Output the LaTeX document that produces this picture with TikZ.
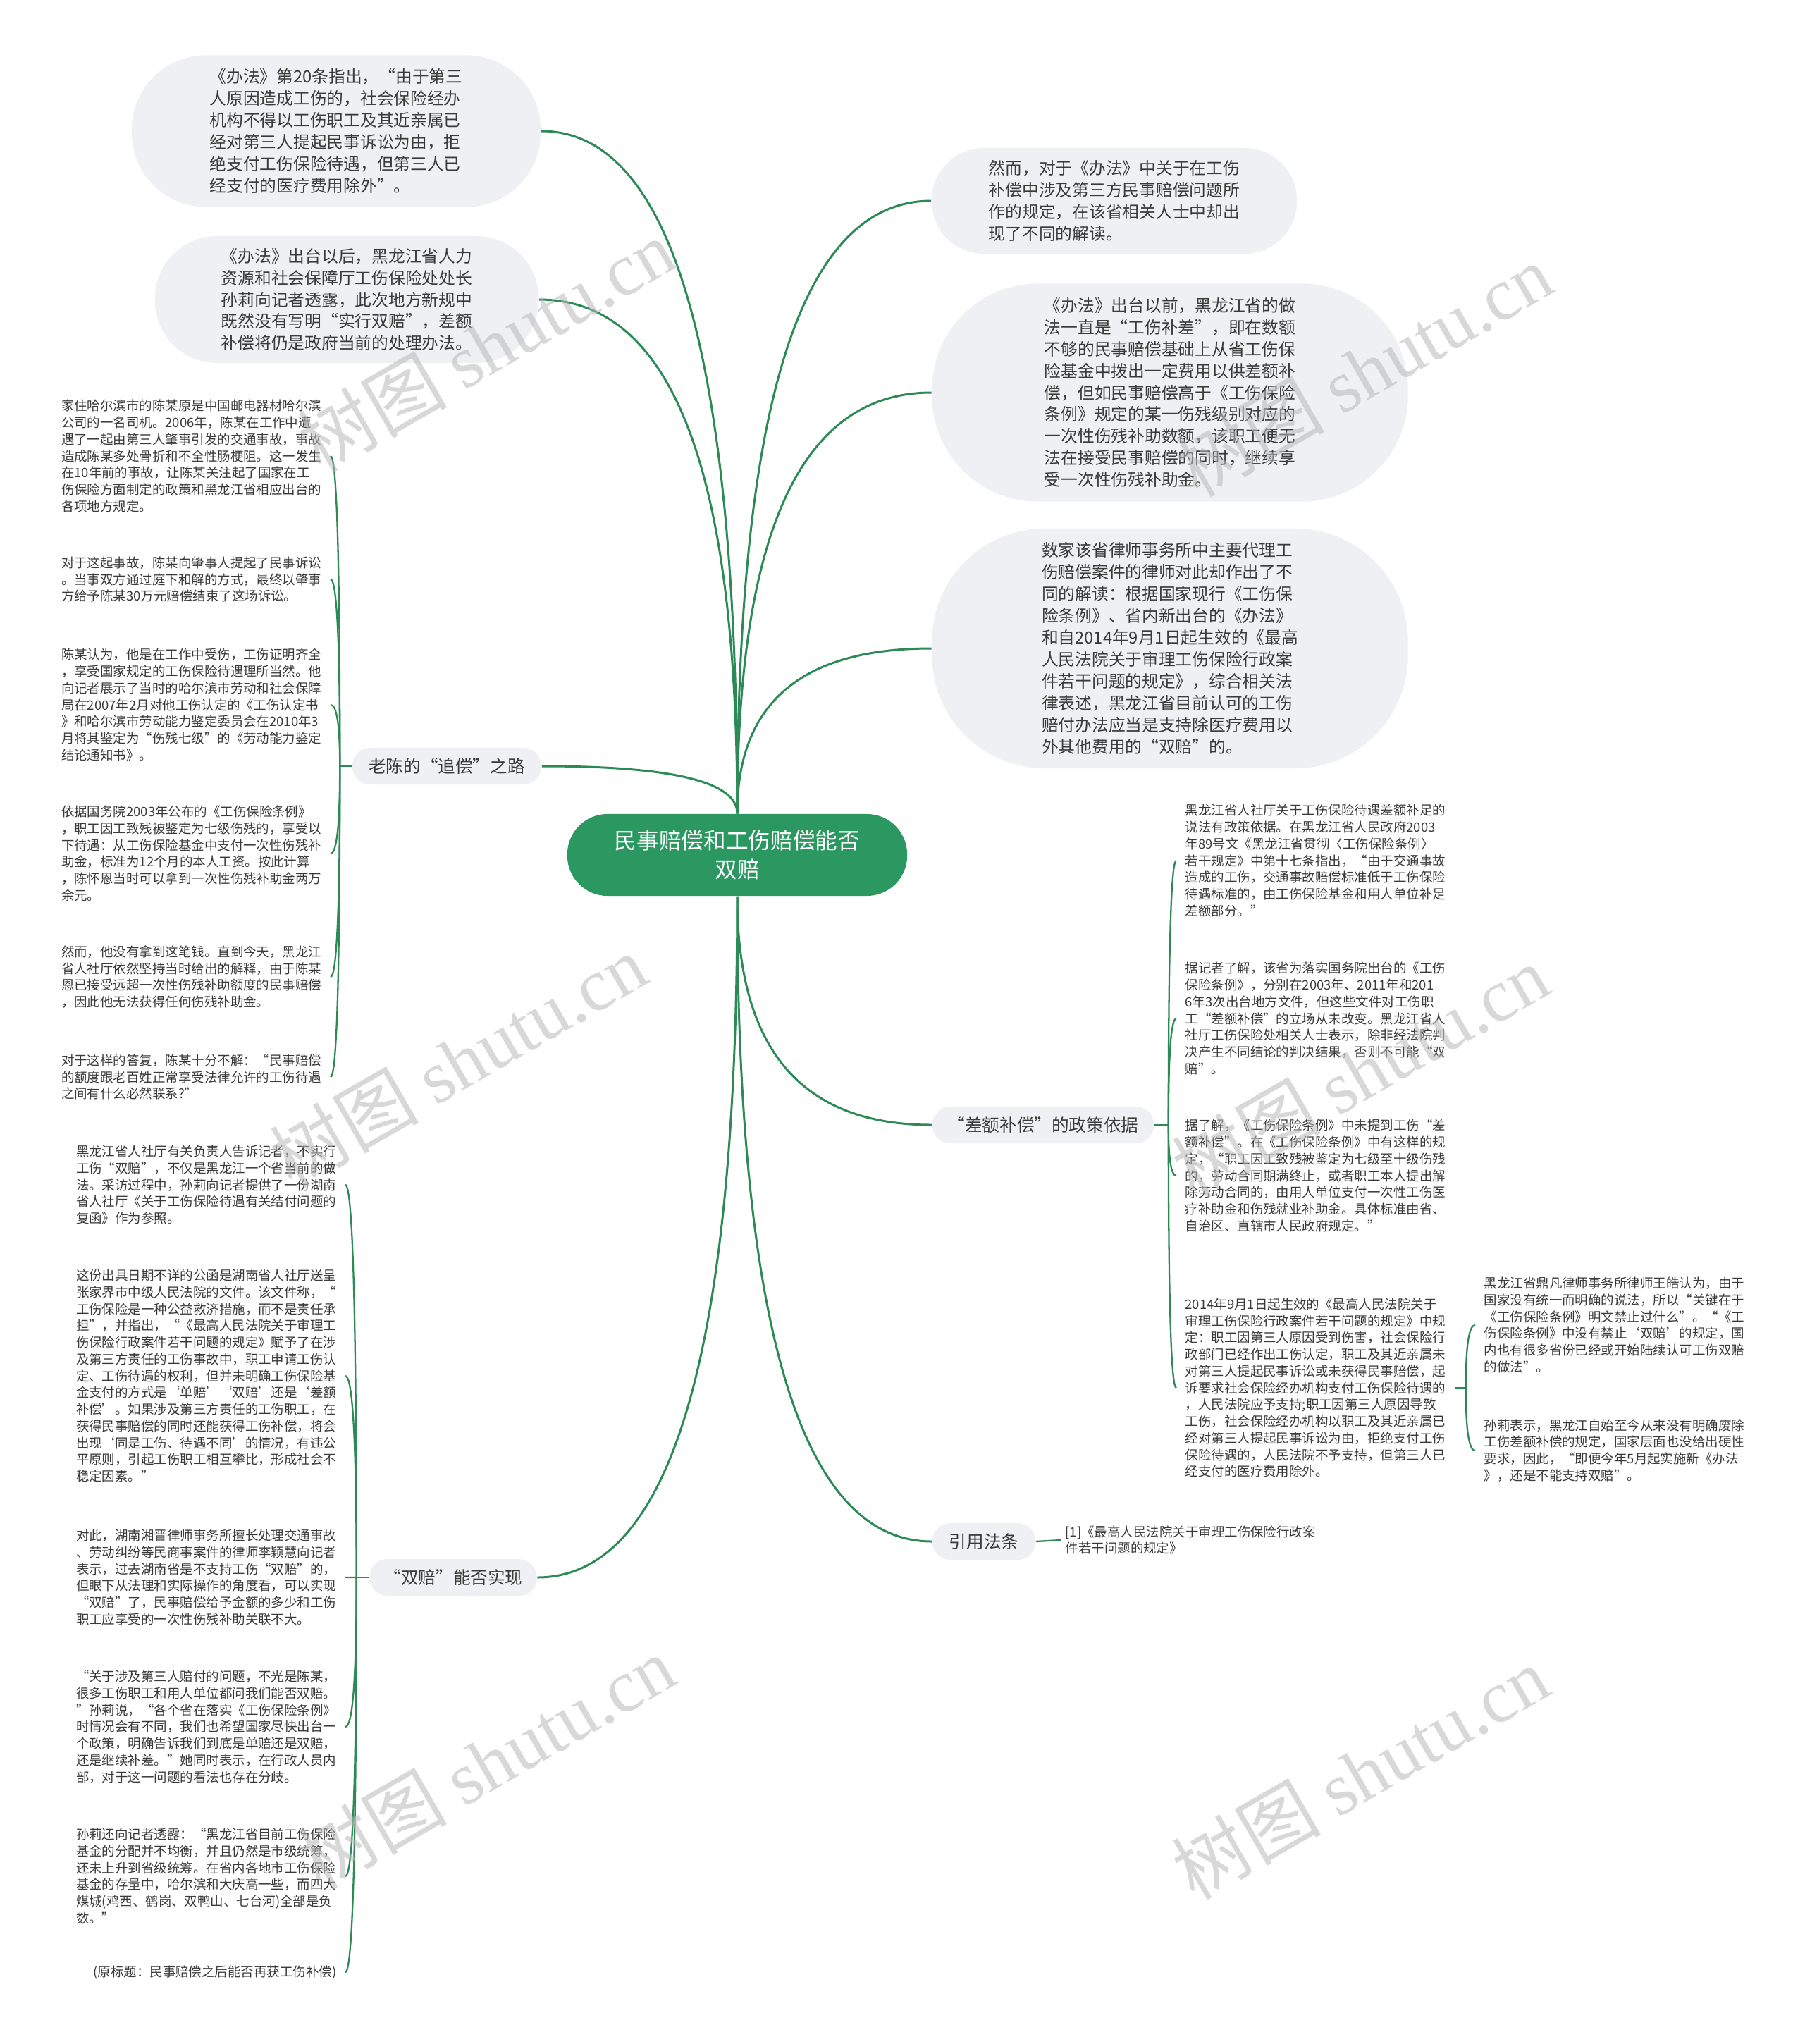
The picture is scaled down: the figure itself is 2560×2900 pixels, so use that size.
\documentclass[tikz,border=0pt]{standalone}
\usepackage{fontspec}
\setmainfont{Noto Sans CJK SC}
\newfontfamily\wmserif{Liberation Serif}
\usetikzlibrary{calc}
\definecolor{lineg}{RGB}{43,138,86}
\definecolor{ctrg}{RGB}{42,152,96}
\definecolor{bub}{RGB}{238,240,243}
\definecolor{txt}{RGB}{58,58,58}
\definecolor{wm}{RGB}{185,185,185}
\tikzset{
 conn/.style={draw=lineg, line width=0.85pt},
 brk/.style={draw=lineg, line width=0.65pt},
 curveto/.style={to path={.. controls ($(\tikztostart)!0.67!(\tikztostart|-\tikztotarget)$) and ($(\tikztotarget)!0.67!(\tikztostart|-\tikztotarget)$) .. (\tikztotarget)}},
 bubble/.style={fill=bub, text=txt, align=left, inner sep=0pt, font=\fontsize{6.75pt}{8.8pt}\selectfont},
 branch/.style={fill=bub, text=txt, rounded corners=0.25cm, minimum height=0.52cm, inner sep=0pt, font=\fontsize{7pt}{8pt}\selectfont},
 leaf/.style={text=txt, align=left, inner ysep=0pt, inner xsep=0.12cm, font=\fontsize{5.25pt}{6.75pt}\selectfont},
 wmk/.style={text=wm, opacity=0.55, rotate=30, inner sep=0pt, font=\fontsize{30pt}{30pt}\selectfont},
}
\begin{document}
\begin{tikzpicture}[x=0.01cm,y=-0.01cm]
\path[fill=white,use as bounding box] (0,0) rectangle (2560,2900);

% center
\node[fill=ctrg, text=white, rounded corners=0.57cm, minimum width=4.82cm, minimum height=1.16cm, align=center, inner sep=0pt, font=\fontsize{9pt}{11.9pt}\selectfont] (ctr) at (1046,1213) {民事赔偿和工伤赔偿能否\\双赔};

% left bubbles
\node[bubble, minimum width=5.80cm, minimum height=2.15cm, rounded corners=1.05cm] (b1) at (477,186) {《办法》第20条指出，“由于第三\\人原因造成工伤的，社会保险经办\\机构不得以工伤职工及其近亲属已\\经对第三人提起民事诉讼为由，拒\\绝支付工伤保险待遇，但第三人已\\经支付的医疗费用除外”。};
\node[bubble, minimum width=5.44cm, minimum height=1.80cm, rounded corners=0.88cm] (b2) at (492,425) {《办法》出台以后，黑龙江省人力\\资源和社会保障厅工伤保险处处长\\孙莉向记者透露，此次地方新规中\\既然没有写明“实行双赔”，差额\\补偿将仍是政府当前的处理办法。};

% right bubbles
\node[bubble, minimum width=5.18cm, minimum height=1.50cm, rounded corners=0.74cm] (r1) at (1581,285) {然而，对于《办法》中关于在工伤\\补偿中涉及第三方民事赔偿问题所\\作的规定，在该省相关人士中却出\\现了不同的解读。};
\node[bubble, minimum width=6.75cm, minimum height=3.09cm, rounded corners=1.5cm] (r2) at (1660,557) {《办法》出台以前，黑龙江省的做\\法一直是“工伤补差”，即在数额\\不够的民事赔偿基础上从省工伤保\\险基金中拨出一定费用以供差额补\\偿，但如民事赔偿高于《工伤保险\\条例》规定的某一伤残级别对应的\\一次性伤残补助数额，该职工便无\\法在接受民事赔偿的同时，继续享\\受一次性伤残补助金。};
\node[bubble, minimum width=6.75cm, minimum height=3.40cm, rounded corners=1.6cm] (r3) at (1660,920) {数家该省律师事务所中主要代理工\\伤赔偿案件的律师对此却作出了不\\同的解读：根据国家现行《工伤保\\险条例》、省内新出台的《办法》\\和自2014年9月1日起生效的《最高\\人民法院关于审理工伤保险行政案\\件若干问题的规定》，综合相关法\\律表述，黑龙江省目前认可的工伤\\赔付办法应当是支持除医疗费用以\\外其他费用的“双赔”的。};

% branches
\node[branch, minimum width=2.68cm] (lc) at (634,1087) {老陈的“追偿”之路};
\node[branch, minimum width=3.14cm] (ce) at (1480,1596) {“差额补偿”的政策依据};
\node[branch, minimum width=1.46cm] (yy) at (1396,2187) {引用法条};
\node[branch, minimum width=2.37cm] (sp) at (643,2238) {“双赔”能否实现};

% main connectors
\draw[conn] (ctr.north) to[curveto] (b1.east);
\draw[conn] (ctr.north) to[curveto] (b2.east);
\draw[conn] (ctr.north) to[curveto] (lc.east);
\draw[conn] (ctr.north) to[curveto] (r1.west);
\draw[conn] (ctr.north) to[curveto] (r2.west);
\draw[conn] (ctr.north) to[curveto] (r3.west);
\draw[conn] (ctr.south) to[curveto] (ce.west);
\draw[conn] (ctr.south) to[curveto] (yy.west);
\draw[conn] (ctr.south) to[curveto] (sp.east);

% 老陈 leaves
\node[leaf, anchor=east] (l1) at (469,647) {家住哈尔滨市的陈某原是中国邮电器材哈尔滨\\公司的一名司机。2006年，陈某在工作中遭\\遇了一起由第三人肇事引发的交通事故，事故\\造成陈某多处骨折和不全性肠梗阻。这一发生\\在10年前的事故，让陈某关注起了国家在工\\伤保险方面制定的政策和黑龙江省相应出台的\\各项地方规定。};
\node[leaf, anchor=east] (l2) at (469,822) {对于这起事故，陈某向肇事人提起了民事诉讼\\。当事双方通过庭下和解的方式，最终以肇事\\方给予陈某30万元赔偿结束了这场诉讼。};
\node[leaf, anchor=east] (l3) at (469,1000) {陈某认为，他是在工作中受伤，工伤证明齐全\\，享受国家规定的工伤保险待遇理所当然。他\\向记者展示了当时的哈尔滨市劳动和社会保障\\局在2007年2月对他工伤认定的《工伤认定书\\》和哈尔滨市劳动能力鉴定委员会在2010年3\\月将其鉴定为“伤残七级”的《劳动能力鉴定\\结论通知书》。};
\node[leaf, anchor=east] (l4) at (469,1211) {依据国务院2003年公布的《工伤保险条例》\\，职工因工致残被鉴定为七级伤残的，享受以\\下待遇：从工伤保险基金中支付一次性伤残补\\助金，标准为12个月的本人工资。按此计算\\，陈怀恩当时可以拿到一次性伤残补助金两万\\余元。};
\node[leaf, anchor=east] (l5) at (469,1386) {然而，他没有拿到这笔钱。直到今天，黑龙江\\省人社厅依然坚持当时给出的解释，由于陈某\\恩已接受远超一次性伤残补助额度的民事赔偿\\，因此他无法获得任何伤残补助金。};
\node[leaf, anchor=east] (l6) at (469,1528) {对于这样的答复，陈某十分不解：“民事赔偿\\的额度跟老百姓正常享受法律允许的工伤待遇\\之间有什么必然联系?”};

\coordinate (lcb) at ($(lc.west)+(-17,0)$);
\draw[brk] (lc.west) -- (lcb);
\foreach \l in {l1,l2,l3,l4,l5,l6}{\draw[brk] (lcb) to[curveto] (\l.east);}

% 双赔 leaves
\node[leaf, anchor=east] (l7) at (490,1681) {黑龙江省人社厅有关负责人告诉记者，不实行\\工伤“双赔”，不仅是黑龙江一个省当前的做\\法。采访过程中，孙莉向记者提供了一份湖南\\省人社厅《关于工伤保险待遇有关结付问题的\\复函》作为参照。};
\node[leaf, anchor=east] (l8) at (490,1952) {这份出具日期不详的公函是湖南省人社厅送呈\\张家界市中级人民法院的文件。该文件称，“\\工伤保险是一种公益救济措施，而不是责任承\\担”，并指出，“《最高人民法院关于审理工\\伤保险行政案件若干问题的规定》赋予了在涉\\及第三方责任的工伤事故中，职工申请工伤认\\定、工伤待遇的权利，但并未明确工伤保险基\\金支付的方式是‘单赔’‘双赔’还是‘差额\\补偿’。如果涉及第三方责任的工伤职工，在\\获得民事赔偿的同时还能获得工伤补偿，将会\\出现‘同是工伤、待遇不同’的情况，有违公\\平原则，引起工伤职工相互攀比，形成社会不\\稳定因素。”};
\node[leaf, anchor=east] (l9) at (490,2238) {对此，湖南湘晋律师事务所擅长处理交通事故\\、劳动纠纷等民商事案件的律师李颖慧向记者\\表示，过去湖南省是不支持工伤“双赔”的，\\但眼下从法理和实际操作的角度看，可以实现\\“双赔”了，民事赔偿给予金额的多少和工伤\\职工应享受的一次性伤残补助关联不大。};
\node[leaf, anchor=east] (l10) at (490,2450) {“关于涉及第三人赔付的问题，不光是陈某，\\很多工伤职工和用人单位都问我们能否双赔。\\”孙莉说，“各个省在落实《工伤保险条例》\\时情况会有不同，我们也希望国家尽快出台一\\个政策，明确告诉我们到底是单赔还是双赔，\\还是继续补差。”她同时表示，在行政人员内\\部，对于这一问题的看法也存在分歧。};
\node[leaf, anchor=east] (l11) at (490,2662) {孙莉还向记者透露：“黑龙江省目前工伤保险\\基金的分配并不均衡，并且仍然是市级统筹，\\还未上升到省级统筹。在省内各地市工伤保险\\基金的存量中，哈尔滨和大庆高一些，而四大\\煤城(鸡西、鹤岗、双鸭山、七台河)全部是负\\数。”};
\node[leaf, anchor=east] (l12) at (490,2798) {(原标题：民事赔偿之后能否再获工伤补偿)};

\coordinate (spb) at ($(sp.west)+(-18,0)$);
\draw[brk] (sp.west) -- (spb);
\foreach \l in {l7,l8,l9,l10,l11,l12}{\draw[brk] (spb) to[curveto] (\l.east);}

% 差额 leaves
\node[leaf, anchor=west] (ra) at (1669,1221) {黑龙江省人社厅关于工伤保险待遇差额补足的\\说法有政策依据。在黑龙江省人民政府2003\\年89号文《黑龙江省贯彻〈工伤保险条例〉\\若干规定》中第十七条指出，“由于交通事故\\造成的工伤，交通事故赔偿标准低于工伤保险\\待遇标准的，由工伤保险基金和用人单位补足\\差额部分。”};
\node[leaf, anchor=west] (rb) at (1669,1445) {据记者了解，该省为落实国务院出台的《工伤\\保险条例》，分别在2003年、2011年和201\\6年3次出台地方文件，但这些文件对工伤职\\工“差额补偿”的立场从未改变。黑龙江省人\\社厅工伤保险处相关人士表示，除非经法院判\\决产生不同结论的判决结果，否则不可能“双\\赔”。};
\node[leaf, anchor=west] (rc) at (1669,1668) {据了解，《工伤保险条例》中未提到工伤“差\\额补偿”。在《工伤保险条例》中有这样的规\\定，“职工因工致残被鉴定为七级至十级伤残\\的，劳动合同期满终止，或者职工本人提出解\\除劳动合同的，由用人单位支付一次性工伤医\\疗补助金和伤残就业补助金。具体标准由省、\\自治区、直辖市人民政府规定。”};
\node[leaf, anchor=west] (rd) at (1669,1969) {2014年9月1日起生效的《最高人民法院关于\\审理工伤保险行政案件若干问题的规定》中规\\定：职工因第三人原因受到伤害，社会保险行\\政部门已经作出工伤认定，职工及其近亲属未\\对第三人提起民事诉讼或未获得民事赔偿，起\\诉要求社会保险经办机构支付工伤保险待遇的\\，人民法院应予支持;职工因第三人原因导致\\工伤，社会保险经办机构以职工及其近亲属已\\经对第三人提起民事诉讼为由，拒绝支付工伤\\保险待遇的，人民法院不予支持，但第三人已\\经支付的医疗费用除外。};

\coordinate (ceb) at ($(ce.east)+(20,0)$);
\draw[brk] (ce.east) -- (ceb);
\foreach \l in {ra,rb,rc,rd}{\draw[brk] (ceb) to[curveto] (\l.west);}

% D children
\node[leaf, anchor=west] (e1) at (2093,1880) {黑龙江省鼎凡律师事务所律师王皓认为，由于\\国家没有统一而明确的说法，所以“关键在于\\《工伤保险条例》明文禁止过什么”。“《工\\伤保险条例》中没有禁止‘双赔’的规定，国\\内也有很多省份已经或开始陆续认可工伤双赔\\的做法”。};
\node[leaf, anchor=west] (e2) at (2093,2058) {孙莉表示，黑龙江自始至今从来没有明确废除\\工伤差额补偿的规定，国家层面也没给出硬性\\要求，因此，“即便今年5月起实施新《办法\\》，还是不能支持双赔”。};
\coordinate (rdb) at ($(rd.east)+(16,0)$);
\draw[brk] (rd.east) -- (rdb);
\foreach \l in {e1,e2}{\draw[brk] (rdb) to[curveto] (\l.west);}

% reference
\node[leaf, anchor=west, inner xsep=0.06cm] (ref) at (1505,2185) {[1]《最高人民法院关于审理工伤保险行政案\\件若干问题的规定》};
\draw[brk] (yy.east) -- (ref.west);

% watermarks
\node[wmk] (w1) at (690,490) {树图 {\wmserif shutu.cn}};
\node[wmk] (w2) at (1935,525) {树图 {\wmserif shutu.cn}};
\node[wmk] (w3) at (650,1505) {树图 {\wmserif shutu.cn}};
\node[wmk] (w4) at (1930,1520) {树图 {\wmserif shutu.cn}};
\node[wmk] (w5) at (690,2500) {树图 {\wmserif shutu.cn}};
\node[wmk] (w6) at (1930,2515) {树图 {\wmserif shutu.cn}};
\end{tikzpicture}
\end{document}
